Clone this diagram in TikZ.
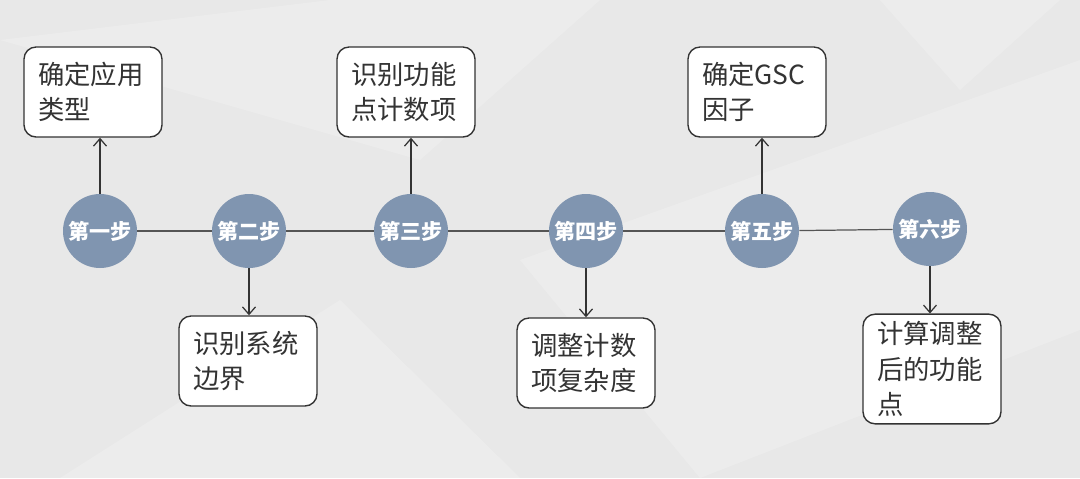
\documentclass[tikz,border=0pt]{standalone}
\usepackage{fontspec}
\newfontfamily\cjk{Noto Sans CJK SC}
\usetikzlibrary{arrows.meta}
\usetikzlibrary{positioning}
\usepackage{xcolor}
\definecolor{bggrey}{HTML}{E8E8E8}
\definecolor{steelblue}{HTML}{8095B0}
\definecolor{inkgrey}{HTML}{333333}
\definecolor{linegrey}{HTML}{555555}

\begin{document}
\begin{tikzpicture}[
        x=0.02cm, y=-0.02cm,
        stepnode/.style={circle, minimum size=1.48cm, inner sep=0pt,
          fill=steelblue, text=white, font=\cjk\bfseries\fontsize{12}{14}\selectfont},
        card/.style={draw=inkgrey, line width=0.8pt, fill=white, rounded corners=0.24cm,
          minimum width=2.76cm, minimum height=1.8cm, inner ysep=0.15cm,
          text width=2.2cm, align=left, text=inkgrey,
          font=\cjk\fontsize{15}{20}\selectfont},
        axis/.style={line width=0.7pt, draw=linegrey},
        arrow/.style={-{Straight Barb[length=1.5mm, width=2.6mm]}, line width=0.7pt, draw=inkgrey},
        facet/.style={fill=white, opacity=0.18, draw=none},
      ]

      % === background ===
      \fill[bggrey] (0,0) rectangle (1080,478);
      \fill[facet] (0,40) -- (330,0) -- (600,0) -- (420,160) -- cycle;
      \fill[facet] (520,260) -- (1080,60) -- (1080,330) -- (700,478) -- cycle;
      \fill[facet] (60,478) -- (340,300) -- (520,478) -- cycle;
      \fill[facet] (880,0) -- (1060,0) -- (960,90) -- cycle;
      \useasboundingbox (0,0) rectangle (1080,478);

      % === steps ===
      \foreach \i/\x/\y/\t in {1/100/231/第一步, 2/249/231/第二步, 3/411/231/第三步,
                               4/586/231/第四步, 5/762/231/第五步, 6/930/229/第六步} {
        \node[stepnode] (s\i) at (\x, \y) {\t};
      }

      % === boxes ===
      \node[card] (b1) at (93, 92)  {确定应用\\类型};
      \node[card] (b2) at (248, 361) {识别系统\\边界};
      \node[card] (b3) at (406, 92)  {识别功能\\点计数项};
      \node[card] (b4) at (586, 363) {调整计数\\项复杂度};
      \node[card] (b5) at (757, 92)  {确定GSC\\因子};
      \node[card] (b6) at (932, 369) {计算调整\\后的功能\\点};

      % === connectors ===
      \draw[axis] (s1) -- (s2);
      \draw[axis] (s2) -- (s3);
      \draw[axis] (s3) -- (s4);
      \draw[axis] (s4) -- (s5);
      \draw[axis] (s5) -- (s6);

      \draw[arrow] (s1) -- (s1 |- b1.south);
      \draw[arrow] (s2) -- (s2 |- b2.north);
      \draw[arrow] (s3) -- (s3 |- b3.south);
      \draw[arrow] (s4) -- (s4 |- b4.north);
      \draw[arrow] (s5) -- (s5 |- b5.south);
      \draw[arrow] (s6) -- (s6 |- b6.north);

      \end{tikzpicture}
\end{document}
